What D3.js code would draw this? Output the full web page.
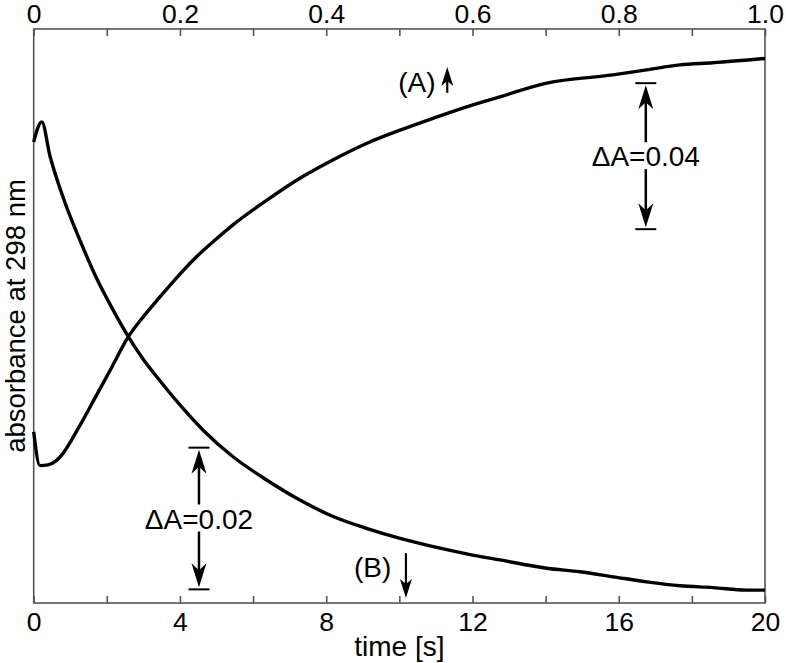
<!DOCTYPE html>
<html>
<head>
<meta charset="utf-8">
<script src="https://cdn.jsdelivr.net/npm/d3@7"></script>
<style>
  html, body { margin: 0; padding: 0; background: #fff; }
  svg { display: block; }
  text { font-family: "Liberation Sans", Arial, Helvetica, sans-serif; fill: #000; }
</style>
</head>
<body>
<svg id="chart" width="786" height="663"></svg>
<script>
// ---- data (time in s, absorbance in arbitrary offset units) ----
const timeA = [0, 0.17, 0.39, 0.61, 0.83, 1.05, 1.27, 1.70, 2.14, 2.58, 2.99, 3.40, 4.00, 4.46, 4.96, 5.45, 6.35, 7.28, 8.18, 9.10, 10.02, 10.92, 11.84, 12.75, 14.03, 15.84, 16.76, 17.67, 18.57, 20];
const absA  = [0.0477, 0.0383, 0.0385, 0.0396, 0.0421, 0.0457, 0.0496, 0.0576, 0.0658, 0.0741, 0.0797, 0.0847, 0.0917, 0.0966, 0.1012, 0.1054, 0.1121, 0.1184, 0.1235, 0.1281, 0.1318, 0.1351, 0.1383, 0.1411, 0.1449, 0.1472, 0.1486, 0.1500, 0.1506, 0.1518];

const timeB = [0, 0.22, 0.45, 0.81, 1.27, 1.72, 2.18, 2.59, 3.0, 3.41, 4.0, 4.64, 5.46, 6.37, 7.28, 8.19, 9.10, 10.02, 10.93, 11.84, 12.75, 14.03, 14.94, 15.85, 16.76, 17.67, 18.58, 19.49, 20];
const absB  = [0.1285, 0.1341, 0.1244, 0.1129, 0.1010, 0.0905, 0.0815, 0.0742, 0.0679, 0.0625, 0.0552, 0.0481, 0.0407, 0.0343, 0.0287, 0.0241, 0.0208, 0.0180, 0.0157, 0.0137, 0.0120, 0.0097, 0.0087, 0.0073, 0.0059, 0.0048, 0.0043, 0.0036, 0.0036];

const bottomTicks = [0, 2, 4, 6, 8, 10, 12, 14, 16, 18, 20];
const bottomLabels = [0, 4, 8, 12, 16, 20];
const topTicks = [0, 0.1, 0.2, 0.3, 0.4, 0.5, 0.6, 0.7, 0.8, 0.9, 1.0];
const topLabels = [0, 0.2, 0.4, 0.6, 0.8, 1.0];

// delta-A bars: time position, upper and lower absorbance, label
const barTimes  = [16.74, 4.52];
const barTops   = [0.1449, 0.0433];
const barBots   = [0.1042, 0.0038];
const barLabels = ["ΔA=0.04", "ΔA=0.02"];

// curve markers (A)/(B): label position and arrow
const markLabels = ["(A)", "(B)"];
const markLabelT = [10.48, 9.27];
const markLabelV = [0.1452, 0.0100];
const markArrowT = [11.31, 10.18];
const markArrowFrom = [0.1422, 0.0139];
const markArrowTo   = [0.1494, 0.0014];

// ---- layout ----
const svg = d3.select("#chart");
const L = 33.7, R = 765, T = 29, B = 603;
const x = d3.scaleLinear().domain([0, 20]).range([L, R]);
const xTop = d3.scaleLinear().domain([0, 1]).range([L, R]);
const y = d3.scaleLinear().domain([0, 0.16]).range([B, T]);
const frameColor = "#555";

// frame
svg.append("rect")
  .attr("x", L).attr("y", T).attr("width", R - L).attr("height", B - T)
  .attr("fill", "none").attr("stroke", frameColor).attr("stroke-width", 1.6);

// bottom axis
const gB = svg.append("g").attr("transform", `translate(0,${B})`)
  .call(d3.axisBottom(x).tickValues(bottomTicks).tickSize(-7).tickPadding(9)
    .tickFormat(d => bottomLabels.includes(d) ? d3.format("d")(d) : ""));
gB.select(".domain").remove();
gB.selectAll(".tick line").attr("stroke", frameColor).attr("stroke-width", 1.6);
gB.selectAll(".tick text").style("font-size", "26.5px").attr("fill", "#000");

// top axis
const gT = svg.append("g").attr("transform", `translate(0,${T})`)
  .call(d3.axisTop(xTop).tickValues(topTicks).tickSize(-7).tickPadding(6)
    .tickFormat(d => topLabels.some(v => Math.abs(v - d) < 1e-9) ? (d === 0 ? "0" : d3.format(".1f")(d)) : ""));
gT.select(".domain").remove();
gT.selectAll(".tick line").attr("stroke", frameColor).attr("stroke-width", 1.6);
gT.selectAll(".tick text").style("font-size", "26.5px").attr("fill", "#000");

// axis titles
svg.append("text").attr("x", (L + R) / 2).attr("y", 656)
  .attr("text-anchor", "middle").style("font-size", "28px").text("time [s]");
svg.append("text")
  .attr("transform", `translate(25,316) rotate(-90)`)
  .attr("text-anchor", "middle").style("font-size", "27.5px").text("absorbance at 298 nm");

// curves
const line = d3.line().x(d => x(d[0])).y(d => y(d[1])).curve(d3.curveMonotoneX);
const dataA = timeA.map((t, i) => [t, absA[i]]);
const dataB = timeB.map((t, i) => [t, absB[i]]);
[dataA, dataB].forEach(d => {
  svg.append("path").datum(d).attr("d", line)
    .attr("fill", "none").attr("stroke", "#000").attr("stroke-width", 3.4)
    .attr("stroke-linejoin", "miter");
});

// arrowhead helper: tip at (tx,ty), dir = -1 (pointing up) or +1 (pointing down)
function arrowHead(g, tx, ty, dir, len, half, notch) {
  const p = d3.path();
  p.moveTo(tx, ty);
  p.lineTo(tx + half, ty - dir * len);
  p.lineTo(tx, ty - dir * notch);
  p.lineTo(tx - half, ty - dir * len);
  p.closePath();
  g.append("path").attr("d", p.toString()).attr("fill", "#000");
}

// delta-A bars
barTimes.forEach((t, i) => {
  const g = svg.append("g");
  const bx = x(t), yt = y(barTops[i]), yb = y(barBots[i]);
  const ym = (yt + yb) / 2;
  [yt, yb].forEach(a => {
    g.append("line").attr("x1", bx - 10.5).attr("x2", bx + 10.5).attr("y1", a).attr("y2", a)
      .attr("stroke", "#000").attr("stroke-width", 2);
  });
  g.append("line").attr("x1", bx).attr("x2", bx).attr("y1", yt + 12).attr("y2", ym - 14)
    .attr("stroke", "#000").attr("stroke-width", 2.5);
  g.append("line").attr("x1", bx).attr("x2", bx).attr("y1", ym + 13).attr("y2", yb - 12)
    .attr("stroke", "#000").attr("stroke-width", 2.5);
  arrowHead(g, bx, yt + 2, -1, 24, 7.5, 17);
  arrowHead(g, bx, yb - 2, 1, 24, 7.5, 17);
  g.append("text").attr("x", bx).attr("y", ym + 10)
    .attr("text-anchor", "middle").style("font-size", "28px").text(barLabels[i]);
});

// (A) / (B) markers
markLabels.forEach((lab, i) => {
  const g = svg.append("g");
  g.append("text").attr("x", x(markLabelT[i])).attr("y", y(markLabelV[i]) + 10)
    .attr("text-anchor", "middle").style("font-size", "28px").text(lab);
  const ax = x(markArrowT[i]);
  const y1 = y(markArrowFrom[i]), y2 = y(markArrowTo[i]);
  const dir = y2 < y1 ? -1 : 1;
  g.append("line").attr("x1", ax).attr("x2", ax).attr("y1", y1).attr("y2", y2 - dir * 12)
    .attr("stroke", "#000").attr("stroke-width", 2.2);
  arrowHead(g, ax, y2, dir, 19, 6, 14);
});
</script>
</body>
</html>
